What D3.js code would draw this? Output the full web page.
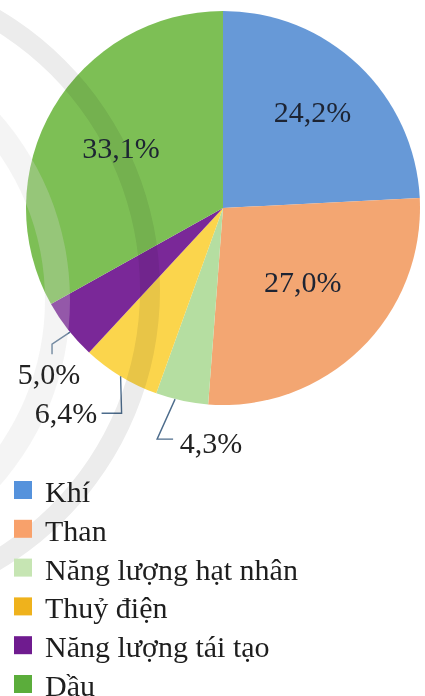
<!DOCTYPE html>
<html><head><meta charset="utf-8"><script src="https://cdn.jsdelivr.net/npm/d3@7"></script></head>
<body style="margin:0">
<svg id="chart" width="425" height="696"></svg>
<script>
// Energy mix shares (%), listed clockwise from 12 o'clock
const categories = ["Khí", "Than", "Năng lượng hạt nhân", "Thuỷ điện", "Năng lượng tái tạo", "Dầu"];
const shares = [24.2, 27.0, 4.3, 6.4, 5.0, 33.1];
const sliceColors = ["#6799d7", "#f3a672", "#b5dea1", "#fbd54c", "#7a2898", "#7dbf55"];
const legendColors = ["#5592dc", "#f8a16b", "#c6e5b3", "#efb21c", "#6f1b8f", "#5bad3b"];

// Label placement: inside labels are nudged from the centroid,
// small slices get an outside label with a bent leader line.
const labelLayout = [
  { inside: true, rho: 0.66, dx: 0, dy: 8 },
  { inside: true, rho: 0.58, dx: 0, dy: 2 },
  { inside: false, anchor: 0.63, pts: [[-18, 40], [-2, 40]], tx: 211, ty: 453 },
  { inside: false, anchor: 0.5, pts: [[1, 37], [-19, 37]], tx: 66, ty: 423 },
  { inside: false, anchor: 0.45, pts: [[-18, 12], [-18, 22]], tx: 49, ty: 384 },
  { inside: true, rho: 0.6, dx: 0, dy: 10 }
];

const svg = d3.select("#chart");
svg.append("rect").attr("width", 425).attr("height", 696).attr("fill", "#fff");
const cx = 223, cy = 208, R = 197;

const fmt = d3.formatLocale({ decimal: ",", thousands: ".", grouping: [3], currency: ["", ""] }).format(".1f");

const pie = d3.pie().sort(null).value(d => d);
const arcs = pie(shares);
const arc = d3.arc().innerRadius(0).outerRadius(R);

const g = svg.append("g").attr("transform", `translate(${cx},${cy})`);
g.selectAll("path.slice")
  .data(arcs)
  .join("path")
  .attr("class", "slice")
  .attr("d", arc)
  .attr("fill", (d, i) => sliceColors[i]);

// Decorative background rings sweeping down the left side
const ring = d3.arc();
svg.append("path")
  .attr("transform", "translate(-210,300)")
  .attr("d", ring({ innerRadius: 255, outerRadius: 280, startAngle: 0, endAngle: Math.PI }))
  .attr("fill", "#d9d9d9")
  .attr("opacity", 0.28);
svg.append("path")
  .attr("transform", "translate(-165,290)")
  .attr("d", ring({ innerRadius: 305, outerRadius: 325, startAngle: 0, endAngle: Math.PI }))
  .attr("fill", "#ececec")
  .style("mix-blend-mode", "multiply");

// Percentage labels
const pointOnRim = a => [R * Math.sin(a), -R * Math.cos(a)];
const labelData = arcs.map((d, i) => {
  const L = labelLayout[i];
  const out = { text: fmt(d.data) + "%", inside: L.inside };
  if (L.inside) {
    const mid = (d.startAngle + d.endAngle) / 2;
    out.x = cx + L.rho * R * Math.sin(mid) + L.dx;
    out.y = cy - L.rho * R * Math.cos(mid) + L.dy;
  } else {
    const a = d.startAngle + L.anchor * (d.endAngle - d.startAngle);
    const p0 = pointOnRim(a);
    out.line = [p0].concat(L.pts.map(p => [p0[0] + p[0], p0[1] + p[1]]));
    out.x = L.tx;
    out.y = L.ty;
  }
  return out;
});

g.selectAll("path.leader")
  .data(labelData.filter(d => !d.inside))
  .join("path")
  .attr("class", "leader")
  .attr("d", d => d3.line()(d.line))
  .attr("fill", "none")
  .attr("stroke", "#4d6c8c")
  .attr("stroke-width", 1.4);

svg.selectAll("text.pct")
  .data(labelData)
  .join("text")
  .attr("class", "pct")
  .attr("x", d => d.x).attr("y", d => d.y)
  .attr("text-anchor", "middle")
  .attr("font-size", 30)
  .attr("fill", d => d.inside ? "#1d2433" : "#222")
  .style("font-family", d => `'Times New Roman'`)
  .text(d => d.text);

// Legend
const rowH = 38.8;
svg.selectAll("rect.key")
  .data(categories)
  .join("rect")
  .attr("class", "key")
  .attr("x", 14).attr("y", (d, i) => 481 + i * rowH)
  .attr("width", 18).attr("height", 18)
  .attr("fill", (d, i) => legendColors[i]);
svg.selectAll("text.key")
  .data(categories)
  .join("text")
  .attr("class", "key")
  .attr("x", 45).attr("y", (d, i) => 502 + i * rowH)
  .attr("font-size", 30)
  .attr("fill", "#1e1e1e")
  .style("font-family", d => `'Times New Roman'`)
  .text(d => d);
</script>
</body>
</html>
